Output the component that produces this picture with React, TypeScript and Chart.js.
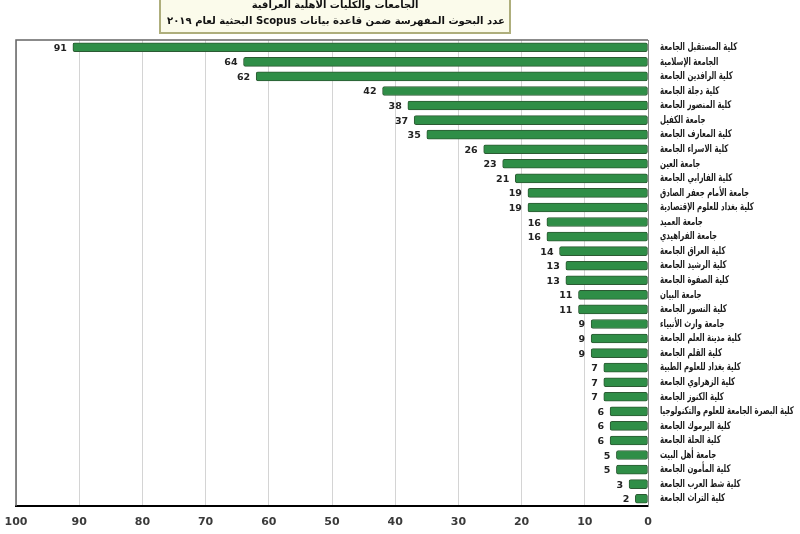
import React, { useEffect, useRef } from "react";
import { Chart, registerables } from "chart.js";

Chart.register(...registerables);

const titleLine1 = "الجامعات والكليات الأهلية العراقية";
const titleLine2 = "عدد البحوث المفهرسة ضمن قاعدة بيانات Scopus البحثية لعام ٢٠١٩";

const categories = [
  "كلية المستقبل الجامعة",
  "الجامعة الإسلامية",
  "كلية الرافدين الجامعة",
  "كلية دجلة الجامعة",
  "كلية المنصور الجامعة",
  "جامعة الكفيل",
  "كلية المعارف الجامعة",
  "كلية الاسراء الجامعة",
  "جامعة العين",
  "كلية الفارابي الجامعة",
  "جامعة الأمام جعفر الصادق",
  "كلية بغداد للعلوم الإقتصادية",
  "جامعة العميد",
  "جامعة الفراهيدي",
  "كلية العراق الجامعة",
  "كلية الرشيد الجامعة",
  "كلية الصفوة الجامعة",
  "جامعة البيان",
  "كلية النسور الجامعة",
  "جامعة وارث الأنبياء",
  "كلية مدينة العلم الجامعة",
  "كلية القلم الجامعة",
  "كلية بغداد للعلوم الطبية",
  "كلية الزهراوي الجامعة",
  "كلية الكنوز الجامعة",
  "كلية البصرة الجامعة للعلوم والتكنولوجيا",
  "كلية اليرموك الجامعة",
  "كلية الحلة الجامعة",
  "جامعة أهل البيت",
  "كلية المأمون الجامعة",
  "كلية شط العرب الجامعة",
  "كلية التراث الجامعة",
];

const values = [
  91, 64, 62, 42, 38, 37, 35, 26, 23, 21, 19, 19, 16, 16, 14, 13, 13, 11, 11, 9,
  9, 9, 7, 7, 7, 6, 6, 6, 5, 5, 3, 2,
];

const axisMin = 0;
const axisMax = 100;
const axisStep = 10;

const FONT = "'DejaVu Sans', sans-serif";

const decorPlugin = {
  id: "decor",
  beforeDraw(chart: any) {
    const { ctx } = chart;
    ctx.save();
    ctx.fillStyle = "#fbfbeb";
    ctx.fillRect(160, -6, 350, 39);
    ctx.strokeStyle = "#aeae7c";
    ctx.lineWidth = 2;
    ctx.strokeRect(160, -6, 350, 39);
    ctx.restore();
  },
  afterDraw(chart: any) {
    const { ctx, chartArea } = chart;
    ctx.save();
    // title text
    ctx.fillStyle = "#111";
    ctx.textAlign = "center";
    ctx.textBaseline = "middle";
    (ctx as any).direction = "rtl";
    ctx.font = `bold 10px ${FONT}`;
    ctx.fillText(titleLine1, 335, 5);
    ctx.font = `bold 10.1px ${FONT}`;
    ctx.fillText(titleLine2, 336, 21);
    (ctx as any).direction = "ltr";
    // frame top / left
    ctx.strokeStyle = "#666";
    ctx.lineWidth = 1.5;
    ctx.beginPath();
    ctx.moveTo(chartArea.left, chartArea.bottom);
    ctx.lineTo(chartArea.left, chartArea.top);
    ctx.lineTo(chartArea.right, chartArea.top);
    ctx.stroke();
    // category labels (condensed)
    const yScale = chart.scales.y;
    ctx.fillStyle = "#1a1a1a";
    ctx.font = `bold 10.5px ${FONT}`;
    ctx.textAlign = "left";
    ctx.textBaseline = "middle";
    categories.forEach((label, i) => {
      const y = yScale.getPixelForTick(i);
      ctx.save();
      ctx.translate(chartArea.right + 12, y);
      ctx.scale(0.66, 1);
      ctx.fillText(label, 0, 0);
      ctx.restore();
    });
    // value labels
    const meta = chart.getDatasetMeta(0);
    ctx.fillStyle = "#222";
    ctx.font = `bold 9.5px ${FONT}`;
    ctx.textAlign = "right";
    ctx.textBaseline = "middle";
    meta.data.forEach((el: any, i: number) => {
      ctx.fillText(String(values[i]), el.x - 6, el.y + 1);
    });
    ctx.restore();
  },
};

export default function App() {
  const ref = useRef<HTMLCanvasElement | null>(null);
  useEffect(() => {
    if (!ref.current) return;
    const chart = new Chart(ref.current, {
      type: "bar",
      data: {
        labels: categories,
        datasets: [
          {
            data: values,
            backgroundColor: "#2f8e47",
            borderColor: "#2c5a33",
            borderWidth: 1,
            borderRadius: 2,
            borderSkipped: false,
            barThickness: 9,
          },
        ],
      },
      options: {
        indexAxis: "y",
        animation: false,
        responsive: false,
        maintainAspectRatio: false,
        layout: { padding: { top: 40, left: 16, right: 0, bottom: 0 } },
        plugins: {
          legend: { display: false },
          tooltip: { enabled: false },
          title: { display: false },
        },
        scales: {
          x: {
            type: "linear",
            reverse: true,
            min: axisMin,
            max: axisMax,
            ticks: {
              stepSize: axisStep,
              color: "#3a3a3a",
              font: { family: FONT, size: 11, weight: "bold" },
              padding: 10,
            },
            grid: { color: "#d4d4d4", drawTicks: false, lineWidth: 1 },
            border: { color: "#000", width: 2 },
            afterFit(scale: any) {
              scale.height = 28;
              scale.paddingLeft = 0;
              scale.paddingRight = 0;
            },
          },
          y: {
            position: "right",
            ticks: { display: false, autoSkip: false },
            grid: { display: false, drawTicks: false },
            border: { color: "#888", width: 1 },
            afterFit(scale: any) {
              scale.width = 152;
            },
          },
        },
      },
      plugins: [decorPlugin],
    });
    return () => chart.destroy();
  }, []);
  return (
    <div style={{ position: "fixed", left: 0, top: 0, width: 800, height: 534, background: "#fff" }}>
      <canvas ref={ref} width={800} height={534} style={{ width: 800, height: 534 }} />
    </div>
  );
}
